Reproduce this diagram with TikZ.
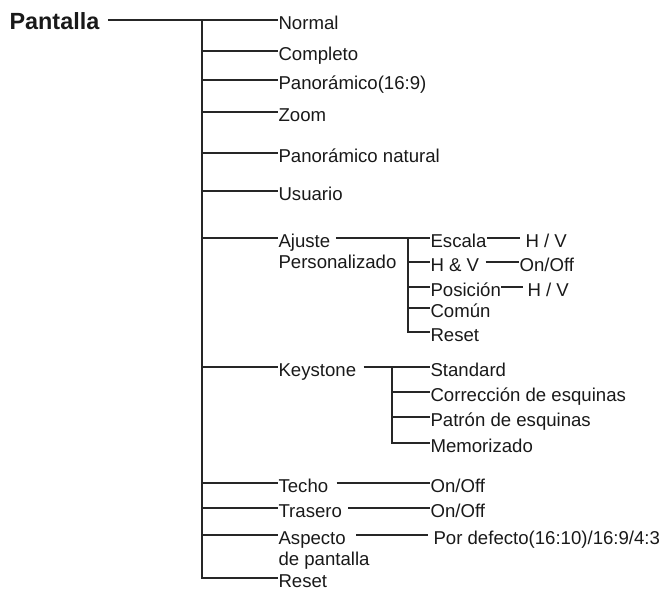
\documentclass[tikz,border=0pt]{standalone}
\usepackage{fontspec}
\setmainfont{Liberation Sans}
\usetikzlibrary{positioning}

\begin{document}
\begin{tikzpicture}[
  x=0.5pt, y=-0.5pt,
  item/.style = {anchor=west, inner xsep=0pt, inner ysep=0pt,
                 text height=10pt, text depth=1pt, text=black!90,
                 font=\fontsize{9.3}{11}\selectfont},
  root/.style = {item, font=\fontsize{11.7}{14}\selectfont\bfseries},
  line width=0.55pt, black!85
]
  \useasboundingbox (0,0) rectangle (663,589);

  % first level
  \node[root] (pan) at (9,20)   {Pantalla};
  \node[item] (nor) at (278,20)  {Normal};
  \node[item] (cmp) at (278,51)  {Completo};
  \node[item] (pno) at (278,80)  {Panorámico(16:9)};
  \node[item] (zoo) at (278,112) {Zoom};
  \node[item] (pnt) at (278,153) {Panorámico natural};
  \node[item] (usu) at (278,191) {Usuario};
  \node[item] (aju) at (278,238) {Ajuste};
  \node[item, anchor=north west, yshift=1pt] (per) at (aju.south west) {Personalizado};
  \node[item] (key) at (278,367) {Keystone};
  \node[item] (tec) at (278,483) {Techo};
  \node[item] (tra) at (278,508) {Trasero};
  \node[item] (asp) at (278,535) {Aspecto};
  \node[item, anchor=north west, yshift=1pt] (dep) at (asp.south west) {de pantalla};
  \node[item] (rst) at (278,578) {Reset};

  \coordinate (tr) at (202,20);
  \draw[shorten <=4pt] (pan.east) -- (nor.west);
  \draw (tr) |- (rst.west);
  \foreach \n in {cmp,pno,zoo,pnt,usu,aju,key,tec,tra,asp}
    \draw (tr |- \n.west) -- (\n.west);

  % Ajuste Personalizado
  \node[item] (esc) at (430,238) {Escala};
  \node[item] (hyv) at (430,262) {H \& V};
  \node[item] (pos) at (430,287) {Posición};
  \node[item] (com) at (430,308) {Común};
  \node[item] (are) at (430,332) {Reset};
  \node[item] (hv1) at (525,238) {H / V};
  \node[item] (on1) at (519,262) {On/Off};
  \node[item] (hv2) at (527,287) {H / V};

  \coordinate (ta) at (408,238);
  \draw[shorten <=2.5pt] (aju.east) -- (esc.west);
  \draw (ta) |- (are.west);
  \foreach \n in {hyv,pos,com}
    \draw (ta |- \n.west) -- (\n.west);
  \draw[shorten >=2.5pt] (esc.east) -- (hv1.west);
  \draw[shorten <=3pt] (hyv.east) -- (on1.west);
  \draw[shorten >=2pt] (pos.east) -- (hv2.west);

  % Keystone
  \node[item] (std) at (430,367) {Standard};
  \node[item] (cor) at (430,392) {Corrección de esquinas};
  \node[item] (pat) at (430,417) {Patrón de esquinas};
  \node[item] (mem) at (430,443) {Memorizado};

  \coordinate (tk) at (392,367);
  \draw[shorten <=3.5pt] (key.east) -- (std.west);
  \draw (tk) |- (mem.west);
  \foreach \n in {cor,pat}
    \draw (tk |- \n.west) -- (\n.west);

  % Techo, Trasero, Aspecto
  \node[item] (on2) at (430,483) {On/Off};
  \node[item] (on3) at (430,508) {On/Off};
  \node[item] (pdf) at (433,535) {Por defecto(16:10)/16:9/4:3};
  \draw[shorten <=4pt] (tec.east) -- (on2.west);
  \draw[shorten <=3pt] (tra.east) -- (on3.west);
  \draw[shorten <=5pt, shorten >=2.5pt] (asp.east) -- (pdf.west);
\end{tikzpicture}
\end{document}
